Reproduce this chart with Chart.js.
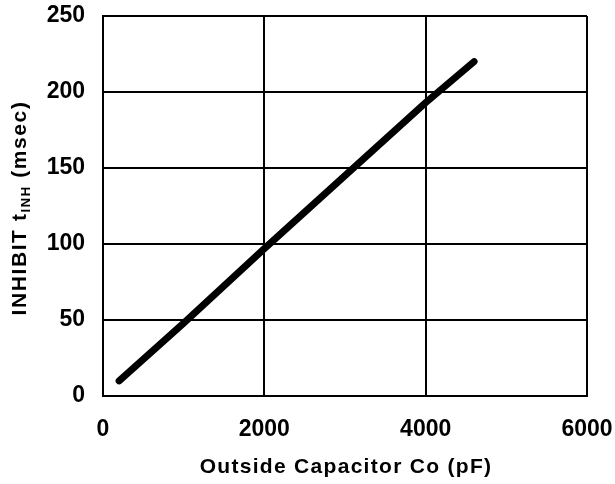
<!DOCTYPE html>
<html><head><meta charset="utf-8">
<script src="https://cdn.jsdelivr.net/npm/chart.js@4"></script>
<style>html,body{margin:0;padding:0;background:#fff}canvas{display:block}</style>
</head><body>
<canvas id="c" width="615" height="484"></canvas>
<script>
const capacitance = [200, 1000, 2000, 3000, 4000, 4600];
const inhibitTime = [10, 48, 97, 145, 193, 220];
const xTicks = [0, 2000, 4000, 6000];
const yTicks = [0, 50, 100, 150, 200, 250];
const xTitle = 'Outside Capacitor Co (pF)';
const yTitleMain = 'INHIBIT t';
const yTitleSub = 'INH';
const yTitleEnd = ' (msec)';

const FONT = '"Liberation Sans", Arial, sans-serif';

const titles = {
  id: 'titles',
  afterDraw(chart) {
    const ctx = chart.ctx;
    ctx.save();
    ctx.fillStyle = '#000';
    ctx.font = 'bold 21px ' + FONT;
    ctx.letterSpacing = '1.3px';
    ctx.textAlign = 'center';
    ctx.textBaseline = 'middle';
    ctx.fillText(xTitle, 346, 467);
    ctx.translate(20, 208);
    ctx.rotate(-Math.PI / 2);
    ctx.letterSpacing = '1.6px';
    const f1 = 'bold 21px ' + FONT, f2 = 'bold 13px ' + FONT;
    ctx.font = f1; const w1 = ctx.measureText(yTitleMain).width;
    const w3 = ctx.measureText(yTitleEnd).width;
    ctx.font = f2; const w2 = ctx.measureText(yTitleSub).width;
    let x = -(w1 + w2 + w3) / 2;
    ctx.textAlign = 'left';
    ctx.font = f1; ctx.fillText(yTitleMain, x, 0); x += w1;
    ctx.font = f2; ctx.fillText(yTitleSub, x, 6); x += w2;
    ctx.font = f1; ctx.fillText(yTitleEnd, x, 0);
    ctx.restore();
  }
};

new Chart(document.getElementById('c'), {
  type: 'scatter',
  data: {
    datasets: [{
      data: capacitance.map((x, i) => ({x, y: inhibitTime[i]})),
      showLine: true,
      borderColor: '#000',
      borderWidth: 7,
      borderCapStyle: 'round',
      borderJoinStyle: 'round',
      pointRadius: 0,
      tension: 0
    }]
  },
  options: {
    responsive: false,
    animation: false,
    events: [],
    layout: { padding: { top: 16, right: 28, left: 0, bottom: 0 } },
    plugins: { legend: { display: false }, tooltip: { enabled: false } },
    scales: {
      x: {
        type: 'linear', min: 0, max: 6000,
        afterBuildTicks: s => { s.ticks = xTicks.map(v => ({value: v})); },
        afterFit: s => { s.height = 88; s.paddingLeft = 0; s.paddingRight = 0; },
        grid: { color: '#000', lineWidth: 2, drawTicks: false },
        border: { color: '#000', width: 2 },
        ticks: { color: '#000', padding: 20, maxRotation: 0, callback: v => String(v),
                 font: { family: FONT, size: 23, weight: 'bold' } }
      },
      y: {
        type: 'linear', min: 0, max: 250,
        afterBuildTicks: s => { s.ticks = yTicks.map(v => ({value: v})); },
        afterFit: s => { s.width = 103; s.paddingTop = 0; s.paddingBottom = 0; },
        grid: { color: '#000', lineWidth: 2, drawTicks: false },
        border: { color: '#000', width: 2 },
        ticks: { color: '#000', padding: 18, callback: v => String(v),
                 font: { family: FONT, size: 23, weight: 'bold' } }
      }
    }
  },
  plugins: [titles]
});
</script>
</body></html>
